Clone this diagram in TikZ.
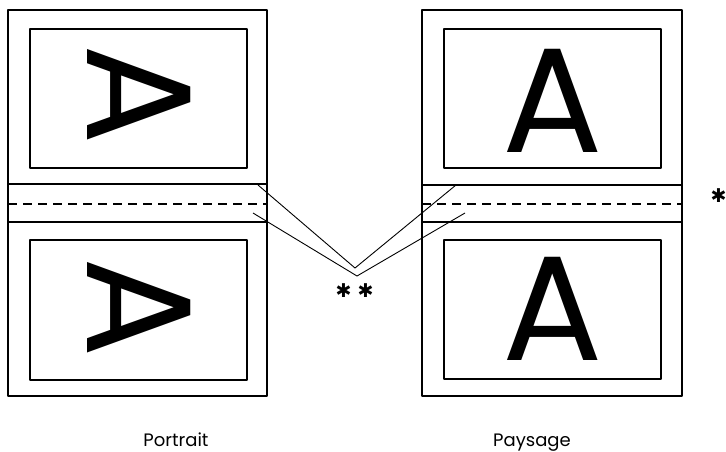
\documentclass[tikz,border=0pt]{standalone}
\usepackage{fontspec}
\newfontfamily\glyphfont{Poppins}
\newfontfamily\starfont{DejaVu Sans}
\tikzset{
  frame/.style={draw, line width=2pt, line join=round},
  fold/.style={draw, line width=2.4pt, dash pattern=on 9pt off 6pt},
  leader/.style={draw, line width=0.9pt},
  bigA/.style={inner sep=0pt, font=\glyphfont\fontsize{149pt}{149pt}\selectfont},
  caption/.style={inner sep=0pt, anchor=base, font=\glyphfont\fontsize{18pt}{18pt}\selectfont},
  star/.style={inner sep=0pt, anchor=center, font=\starfont\fontsize{19pt}{19pt}\selectfont}
}
\begin{document}
\begin{tikzpicture}[x=1pt, y=-1pt]
\useasboundingbox (0,0) rectangle (726,451);
% left panel (Portrait)
\draw[frame] (8,10) rectangle (267,396);
\draw[frame] (8,184) -- (267,184);
\draw[frame] (8,222) -- (267,222);
\draw[fold] (8,204) -- (267,204);
\draw[frame] (30,29) rectangle (247,168);
\draw[frame] (30,240) rectangle (247,380);
\node[bigA, rotate=-90] (pa1) at (139,94.5) {A};
\node[bigA, rotate=-90] (pa2) at (139,307.5) {A};
% right panel (Paysage)
\draw[frame] (422,10) rectangle (682,396);
\draw[frame] (422,185) -- (682,185);
\draw[frame] (422,222) -- (682,222);
\draw[fold] (422,204) -- (682,204);
\draw[frame] (444,29) rectangle (661,168);
\draw[frame] (444,240) rectangle (661,379);
\node[bigA] (la1) at (552.5,101) {A};
\node[bigA] (la2) at (552.5,308.5) {A};
% leader lines
\coordinate (lu) at (258,185);
\coordinate (ll) at (253,213);
\coordinate (v1) at (355,268);
\coordinate (v2) at (357,276);
\coordinate (ru) at (456,185);
\coordinate (rl) at (465,213);
\draw[leader] (lu) -- (v1) -- (ru);
\draw[leader] (ll) -- (v2) -- (rl);
% asterisks
\node[star] (dstara) at (343.5,291) {✱};
\node[star] (dstarb) at (365.5,291) {✱};
\node[star] (sstar) at (718.5,196) {✱};
% captions
\node[caption] (cport) at (176,446) {Portrait};
\node[caption] (cpays) at (532,446) {Paysage};
\end{tikzpicture}
\end{document}
